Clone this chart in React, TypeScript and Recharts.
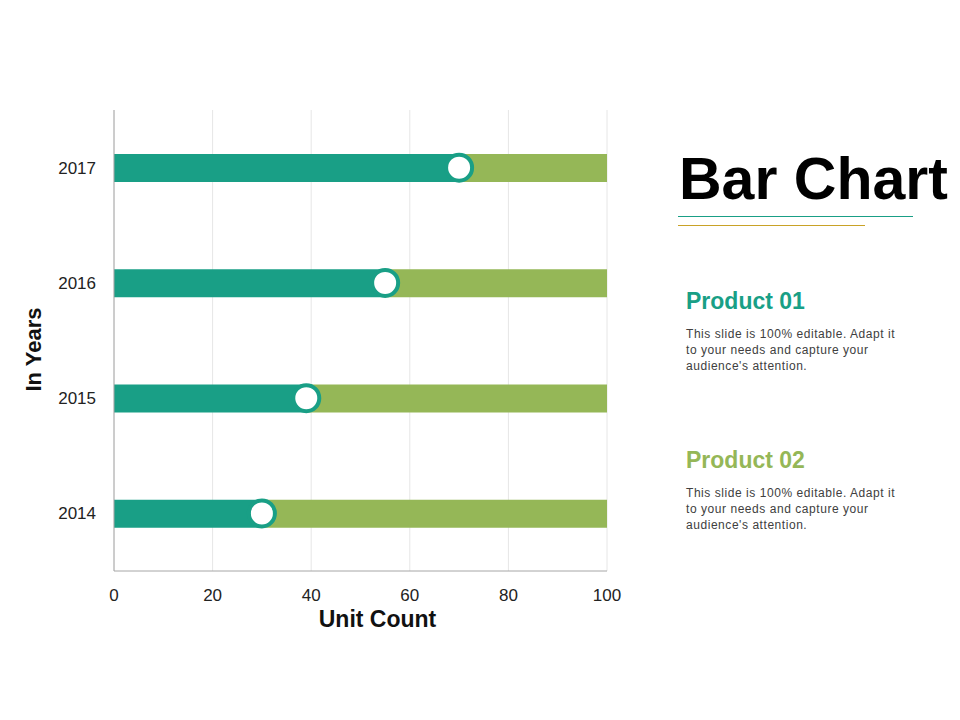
import React from 'react';
import {
  ComposedChart, Bar, Line, XAxis, YAxis, CartesianGrid, Label,
} from 'recharts';

const YEARS = ['2017', '2016', '2015', '2014'];
const UNITS = [70, 55, 39, 30];
const X_TICKS = [0, 20, 40, 60, 80, 100];
const MAX_UNITS = 100;

const TEAL = '#199f86';
const GREEN = '#95b757';
const FONT = '"Liberation Sans", Arial, sans-serif';

const data = YEARS.map((year, i) => ({
  year,
  value: UNITS[i],
  rest: MAX_UNITS - UNITS[i],
}));

const PRODUCTS = [
  { title: 'Product 01', color: TEAL },
  { title: 'Product 02', color: GREEN },
];
const BLURB = "This slide is 100% editable. Adapt it to your needs and capture your audience's attention.";

export default function App() {
  return (
    <div style={{ position: 'absolute', left: 0, top: 0, width: 960, height: 720, background: '#fff', fontFamily: FONT }}>
      <ComposedChart
        width={640}
        height={650}
        data={data}
        layout="vertical"
        margin={{ top: 110, right: 33, bottom: 19, left: 0 }}
        barCategoryGap={0}
      >
        <CartesianGrid horizontal={false} stroke="#e6e6e6" />
        <XAxis
          type="number"
          domain={[0, MAX_UNITS]}
          ticks={X_TICKS}
          height={60}
          axisLine={{ stroke: '#a6a6a6' }}
          tickLine={false}
          tick={{ fill: '#222', fontSize: 17, fontFamily: FONT }}
          tickMargin={12}
        >
          <Label
            value="Unit Count"
            position="insideBottom"
            offset={4}
            dx={17}
            style={{ fill: '#111', fontSize: 23, fontWeight: 700, fontFamily: FONT }}
          />
        </XAxis>
        <YAxis
          type="category"
          dataKey="year"
          width={114}
          axisLine={{ stroke: '#a6a6a6' }}
          tickLine={false}
          tick={{ fill: '#222', fontSize: 17, fontFamily: FONT }}
          tickMargin={12}
        >
          <Label
            value="In Years"
            angle={-90}
            position="insideLeft"
            offset={33}
            dy={9}
            style={{ fill: '#111', fontSize: 22, fontWeight: 700, fontFamily: FONT, textAnchor: 'middle' }}
          />
        </YAxis>
        <Bar dataKey="value" stackId="a" fill={TEAL} barSize={28} isAnimationActive={false} />
        <Bar dataKey="rest" stackId="a" fill={GREEN} barSize={28} isAnimationActive={false} />
        <Line
          dataKey="value"
          stroke="none"
          dot={{ r: 13, fill: '#fff', stroke: TEAL, strokeWidth: 4 }}
          activeDot={false}
          isAnimationActive={false}
        />
      </ComposedChart>

      <div style={{ position: 'absolute', left: 679, top: 141, fontSize: 59, fontWeight: 700, color: '#000', lineHeight: '76px', whiteSpace: 'nowrap' }}>
        Bar Chart
      </div>
      <div style={{ position: 'absolute', left: 678, top: 216, width: 235, height: 1, background: TEAL }} />
      <div style={{ position: 'absolute', left: 678, top: 225, width: 187, height: 1, background: '#c9a227' }} />

      {PRODUCTS.map((p, i) => (
        <div key={p.title} style={{ position: 'absolute', left: 686, top: 286 + i * 159, width: 230 }}>
          <div style={{ fontSize: 23, fontWeight: 700, color: p.color, lineHeight: '30px' }}>{p.title}</div>
          <div style={{ marginTop: 10, fontSize: 12, color: '#404040', lineHeight: '16px', width: 214, letterSpacing: 0.55 }}>{BLURB}</div>
        </div>
      ))}
    </div>
  );
}
